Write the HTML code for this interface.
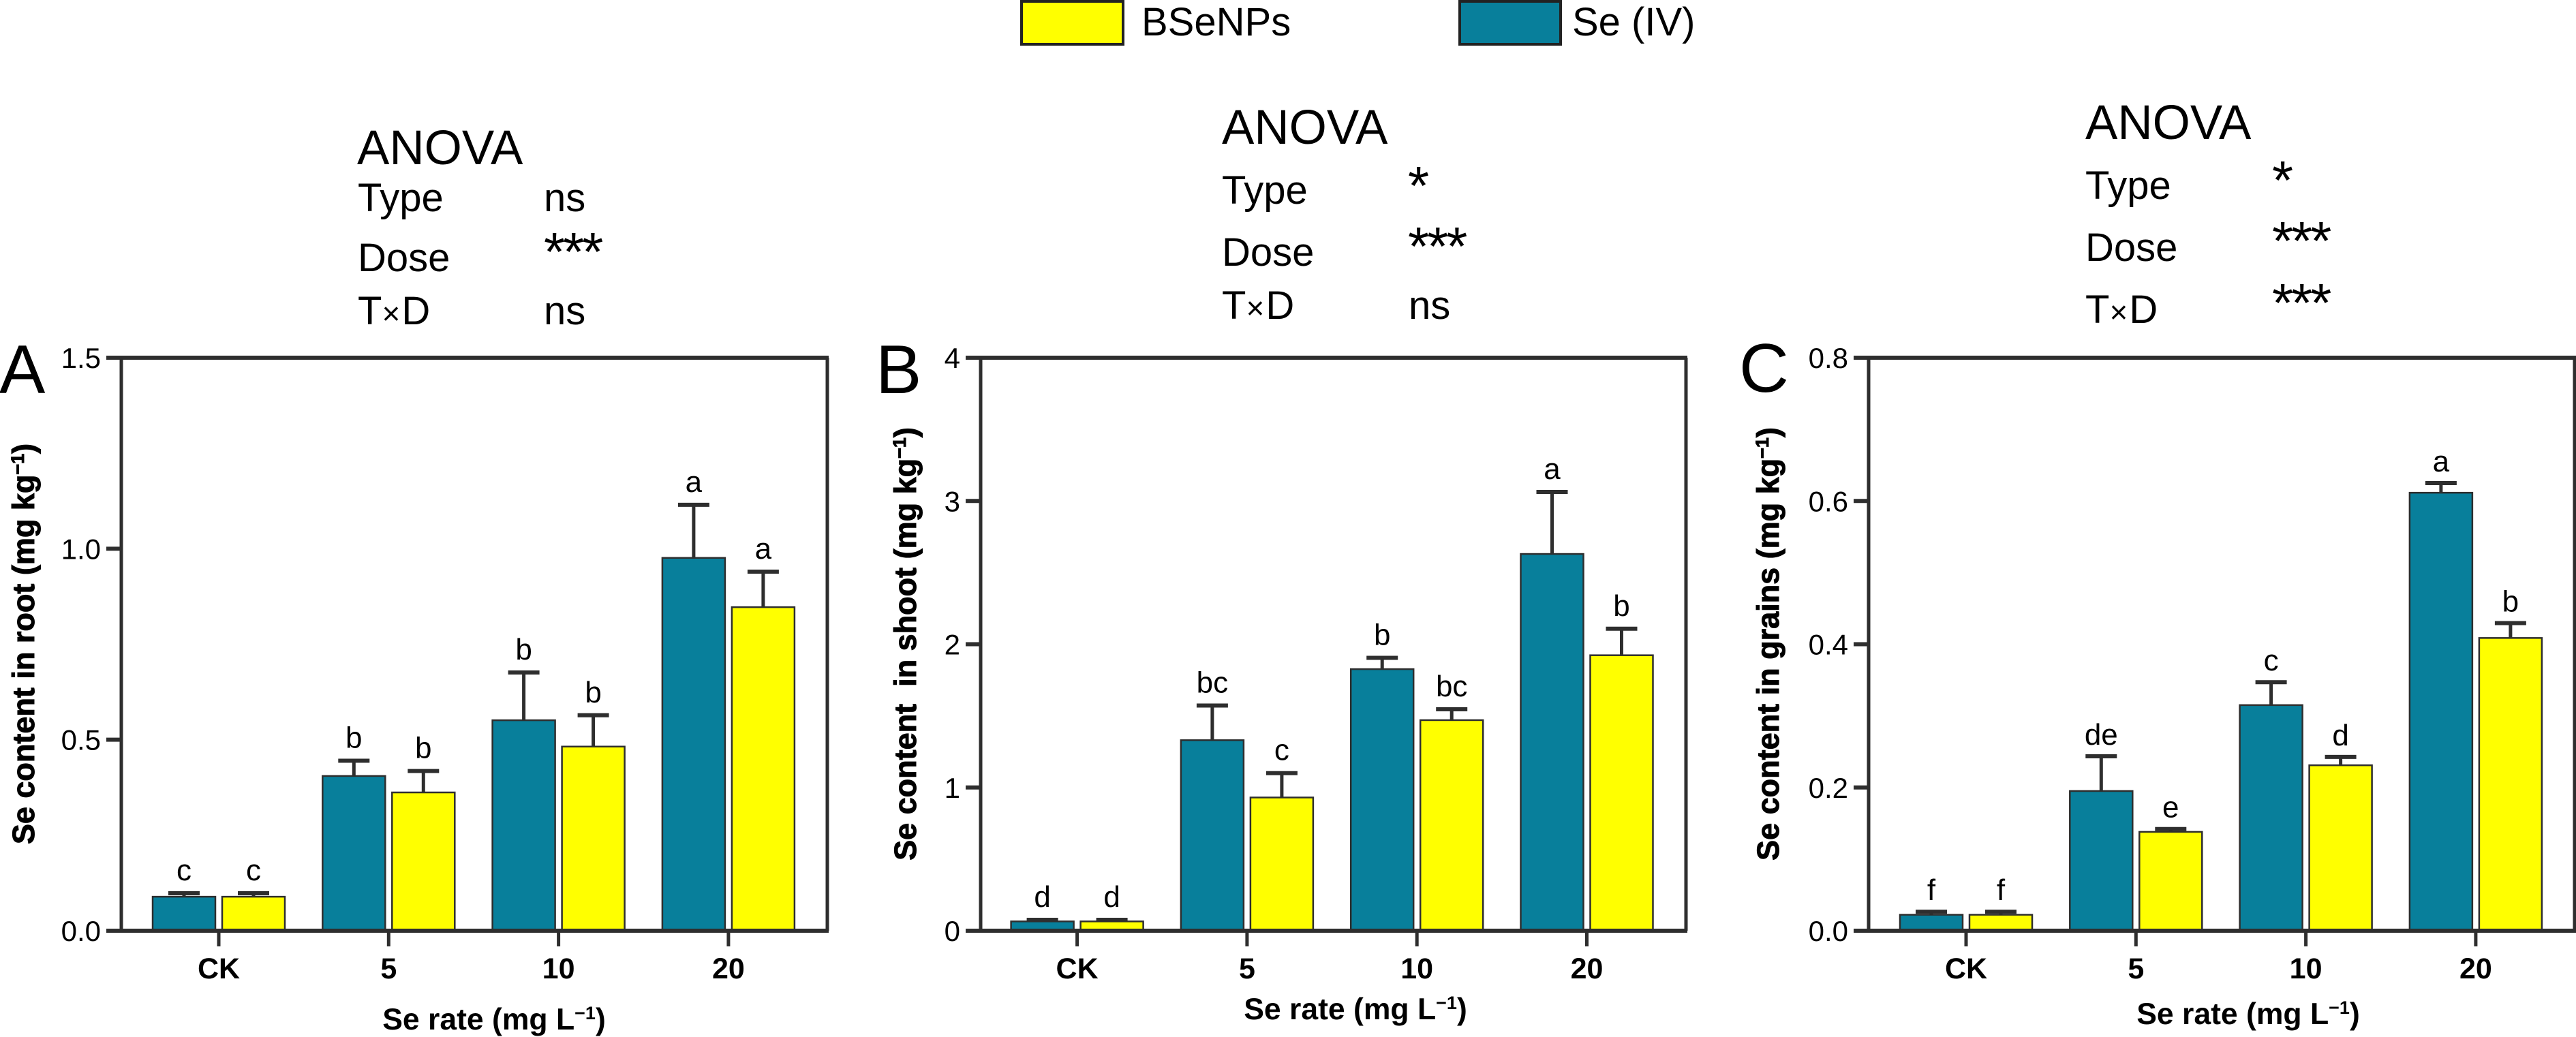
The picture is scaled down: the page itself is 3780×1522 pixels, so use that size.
<!DOCTYPE html>
<html lang="en">
<head>
<meta charset="utf-8">
<title>Se content by rate</title>
<style>
html,body{margin:0;padding:0;background:#fff;width:3780px;height:1522px;overflow:hidden}
svg{display:block;font-family:"Liberation Sans",Arial,sans-serif}
text{fill:#000;white-space:pre}
</style>
</head>
<body>
<svg id="chart" xmlns="http://www.w3.org/2000/svg" width="3780" height="1522" viewBox="0 0 3780 1522">
  <g>
    <rect x="1499" y="2" width="149" height="63" fill="#ffff00" stroke="#222" stroke-width="4"/>
    <text x="1675" y="52" font-size="58">BSeNPs</text>
    <rect x="2142" y="2" width="148" height="63" fill="#087f9b" stroke="#222" stroke-width="4"/>
    <text x="2307" y="52" font-size="58">Se (IV)</text>
  </g>
  <g font-size="58">
    <text x="524" y="241" font-size="71">ANOVA</text>
    <text x="525" y="310">Type</text>
    <text x="798" y="310">ns</text>
    <text x="525" y="398">Dose</text>
    <text x="798" y="397" font-size="80" letter-spacing="-3">***</text>
    <text x="525" y="476">T<tspan font-size="46">×</tspan><tspan dx="2">D</tspan></text>
    <text x="798" y="476">ns</text>
  </g>
  <g font-size="58">
    <text x="1793" y="211" font-size="71">ANOVA</text>
    <text x="1793" y="299">Type</text>
    <text x="2066" y="300" font-size="80">*</text>
    <text x="1793" y="390">Dose</text>
    <text x="2066" y="389" font-size="80" letter-spacing="-3">***</text>
    <text x="1793" y="468">T<tspan font-size="46">×</tspan><tspan dx="2">D</tspan></text>
    <text x="2067" y="468">ns</text>
  </g>
  <g font-size="58">
    <text x="3060" y="204" font-size="71">ANOVA</text>
    <text x="3060" y="292">Type</text>
    <text x="3334" y="292" font-size="80">*</text>
    <text x="3060" y="383">Dose</text>
    <text x="3334" y="381" font-size="80" letter-spacing="-3">***</text>
    <text x="3060" y="474">T<tspan font-size="46">×</tspan><tspan dx="2">D</tspan></text>
    <text x="3334" y="472" font-size="80" letter-spacing="-3">***</text>
  </g>
  <text x="-1" y="577" font-size="101">A</text>
  <text x="1285" y="577" font-size="101">B</text>
  <text x="2552" y="575" font-size="101">C</text>
</svg>
<script>
const categories = ['CK', '5', '10', '20'];

const rootTicks = [0, 0.5, 1.0, 1.5];
const rootTickLabels = ['0.0', '0.5', '1.0', '1.5'];
const rootSeIV = [0.089, 0.405, 0.551, 0.976];
const rootSeIVErr = [0.009, 0.04, 0.125, 0.139];
const rootSeIVLetters = ['c', 'b', 'b', 'a'];
const rootBSeNPs = [0.089, 0.362, 0.482, 0.847];
const rootBSeNPsErr = [0.009, 0.056, 0.082, 0.093];
const rootBSeNPsLetters = ['c', 'b', 'b', 'a'];

const shootTicks = [0, 1, 2, 3, 4];
const shootTickLabels = ['0', '1', '2', '3', '4'];
const shootSeIV = [0.065, 1.33, 1.826, 2.63];
const shootSeIVErr = [0.011, 0.242, 0.079, 0.433];
const shootSeIVLetters = ['d', 'bc', 'b', 'a'];
const shootBSeNPs = [0.065, 0.93, 1.47, 1.923];
const shootBSeNPsErr = [0.011, 0.17, 0.076, 0.185];
const shootBSeNPsLetters = ['d', 'c', 'bc', 'b'];

const grainTicks = [0, 0.2, 0.4, 0.6, 0.8];
const grainTickLabels = ['0.0', '0.2', '0.4', '0.6', '0.8'];
const grainSeIV = [0.0223, 0.195, 0.315, 0.6115];
const grainSeIVErr = [0.0042, 0.0485, 0.032, 0.0135];
const grainSeIVLetters = ['f', 'de', 'c', 'a'];
const grainBSeNPs = [0.0223, 0.138, 0.231, 0.4087];
const grainBSeNPsErr = [0.0042, 0.004, 0.0117, 0.0208];
const grainBSeNPsLetters = ['f', 'e', 'd', 'b'];

const NS = 'http://www.w3.org/2000/svg';
const svg = document.getElementById('chart');
const INK = '#2e2e2e';
const TEAL = '#087f9b';
const YELLOW = '#ffff00';

function mk(tag, attrs, parent, txt) {
  const el = document.createElementNS(NS, tag);
  for (const k in attrs) el.setAttribute(k, attrs[k]);
  if (txt !== undefined) el.textContent = txt;
  parent.appendChild(el);
  return el;
}

function drawSeries(g, p, xScale, yScale, means, errs, letters, offset, fill, seriesKey) {
  means.forEach(function (v, i) {
    const cx = xScale(i) + offset;
    const top = yScale(v);
    const capY = yScale(v + errs[i]);

    const stem = mk('line', {x1: cx, x2: cx, y1: top, y2: capY, stroke: INK, 'stroke-width': 5}, g);
    
    

    const cap = mk('line', {x1: cx - 23, x2: cx + 23, y1: capY, y2: capY, stroke: INK, 'stroke-width': 6}, g);
    
    

    const bar = mk('rect', {x: cx - 46, y: top, width: 92, height: p.y0 - top, fill: fill, stroke: INK, 'stroke-width': 2.5}, g);
    
    

    const letter = mk('text', {x: cx, y: capY - p.gap, 'text-anchor': 'middle', 'font-size': 44}, g, letters[i]);
    
    
  });
}

function drawPanel(p, ticks, tickLabels, yMax, seIV, seIVErr, seIVLetters, bse, bseErr, bseLetters) {
  const g = mk('g', {}, svg);
  
  

  const yScale = function (v) { return p.y0 - (v / yMax) * (p.y0 - p.y1); };
  const xScale = function (i) { return p.firstTick + i * p.step; };

  drawSeries(g, p, xScale, yScale, seIV, seIVErr, seIVLetters, -51, TEAL, 'se-iv');
  drawSeries(g, p, xScale, yScale, bse, bseErr, bseLetters, 51, YELLOW, 'bsenps');

  const frame = mk('path', {d: 'M' + p.x0 + ' ' + p.y1 + 'V' + p.y0 + 'M' + p.x1 + ' ' + p.y1 + 'V' + p.y0, stroke: INK, 'stroke-width': 5, fill: 'none'}, g);
  
  

  const topLine = mk('line', {x1: p.x0 - 22, x2: p.x1 + 2, y1: p.y1, y2: p.y1, stroke: INK, 'stroke-width': 6}, g);
  
  

  const base = mk('line', {x1: p.x0 - 22, x2: p.x1 + 2, y1: p.y0, y2: p.y0, stroke: INK, 'stroke-width': 6}, g);
  
  

  ticks.forEach(function (t, i) {
    const y = yScale(t);
    const tick = mk('line', {x1: p.x0 - 22, x2: p.x0, y1: y, y2: y, stroke: INK, 'stroke-width': 6}, g);
    
    
    const lab = mk('text', {x: p.x0 - 30, y: y + 15, 'text-anchor': 'end', 'font-size': 42}, g, tickLabels[i]);
    
    
  });

  categories.forEach(function (c, i) {
    const x = xScale(i);
    const tick = mk('line', {x1: x, x2: x, y1: p.y0, y2: p.y0 + 23, stroke: INK, 'stroke-width': 5}, g);
    
    
    const lab = mk('text', {x: x, y: 1436, 'text-anchor': 'middle', 'font-size': 43, 'font-weight': 'bold'}, g, c);
    
    
  });

  const xt = mk('text', {x: p.xTitleX, y: p.xTitleY, 'font-size': 44.5, 'font-weight': 'bold', 'text-anchor': 'middle'}, g, 'Se rate (mg L');
  
  
  mk('tspan', {dy: -15, 'font-size': 27}, xt, '−1');
  mk('tspan', {dy: 15}, xt, ')');

  const yt = mk('text', {transform: 'translate(' + p.yTitleX + ' 945) rotate(-90)', 'font-size': 45, 'font-weight': 'bold', 'text-anchor': 'middle', stroke: '#000', 'stroke-width': 1}, g, p.yTitle + ' (mg kg');
  
  
  mk('tspan', {dy: -15, 'font-size': 27}, yt, '−1');
  mk('tspan', {dy: 15}, yt, ')');
}

drawPanel({key: 'a', x0: 178, x1: 1214, y0: 1366, y1: 525, firstTick: 321, step: 249.3, gap: 19,
  xTitleX: 725, xTitleY: 1511, yTitleX: 50, yTitle: 'Se content in root'},
  rootTicks, rootTickLabels, 1.5, rootSeIV, rootSeIVErr, rootSeIVLetters, rootBSeNPs, rootBSeNPsErr, rootBSeNPsLetters);

drawPanel({key: 'b', x0: 1439, x1: 2474, y0: 1366, y1: 525, firstTick: 1580.6, step: 249.3, gap: 19,
  xTitleX: 1989, xTitleY: 1496, yTitleX: 1344, yTitle: 'Se content  in shoot'},
  shootTicks, shootTickLabels, 4, shootSeIV, shootSeIVErr, shootSeIVLetters, shootBSeNPs, shootBSeNPsErr, shootBSeNPsLetters);

drawPanel({key: 'c', x0: 2742, x1: 3778, y0: 1366, y1: 525, firstTick: 2885, step: 249.3, gap: 17,
  xTitleX: 3299, xTitleY: 1503, yTitleX: 2610, yTitle: 'Se content in grains'},
  grainTicks, grainTickLabels, 0.8, grainSeIV, grainSeIVErr, grainSeIVLetters, grainBSeNPs, grainBSeNPsErr, grainBSeNPsLetters);
</script>
</body>
</html>
